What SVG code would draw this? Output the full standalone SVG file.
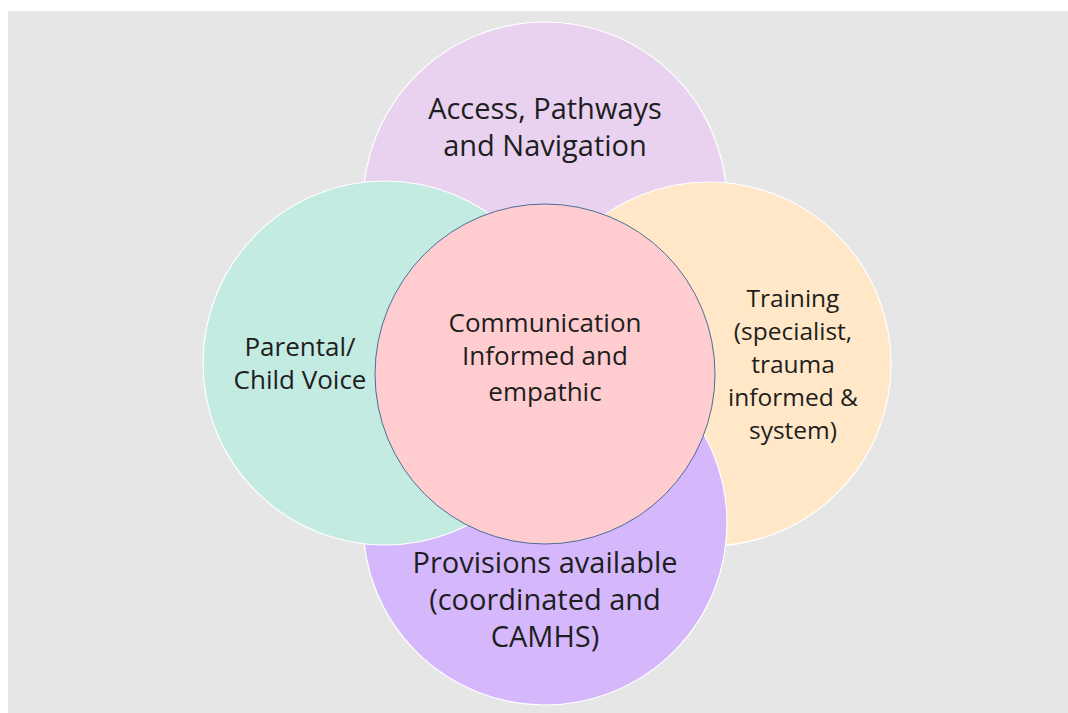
<svg xmlns="http://www.w3.org/2000/svg" width="1068" height="713" viewBox="0 0 1068 713">
<style>
.c{stroke:#ffffff;stroke-width:1.2}
.t{font-family:"Open Sans","Liberation Sans",sans-serif;font-size:29px;fill:#1e1e1e;text-anchor:middle}
.s{font-size:26px}
.r{font-size:24.5px}
</style>
<rect x="0" y="0" width="1068" height="713" fill="#ffffff"/>
<rect x="8" y="11" width="1060" height="702" fill="#e6e6e6"/>
<g id="access">
<circle class="c" cx="545" cy="204" r="182" fill="#e9d1f0"/>
<text class="t" x="545" y="119">Access, Pathways</text>
<text class="t" x="545" y="156">and Navigation</text>
</g>
<g id="training">
<circle class="c" cx="709" cy="364" r="182" fill="#ffe7c7"/>
<text class="t r" x="793" y="307">Training</text>
<text class="t r" x="793" y="340">(specialist,</text>
<text class="t r" x="793" y="373">trauma</text>
<text class="t r" x="793" y="406">informed &amp;</text>
<text class="t r" x="793" y="439">system)</text>
</g>
<g id="provisions">
<circle class="c" cx="545" cy="523" r="182" fill="#d5b7fc"/>
<text class="t" x="545" y="573">Provisions available</text>
<text class="t" x="545" y="610">(coordinated and</text>
<text class="t" x="545" y="647">CAMHS)</text>
</g>
<g id="voice">
<circle class="c" cx="385" cy="363" r="182" fill="#c3ebe2"/>
<text class="t s" x="300" y="356">Parental/</text>
<text class="t s" x="300" y="389">Child Voice</text>
</g>
<g id="communication">
<circle cx="545" cy="374" r="170" fill="#ffccd0" stroke="#4a6f96" stroke-width="1"/>
<text class="t s" x="545" y="332">Communication</text>
<text class="t s" x="545" y="365">Informed and</text>
<text class="t s" x="545" y="401">empathic</text>
</g>
<g id="connectors"></g>
</svg>
